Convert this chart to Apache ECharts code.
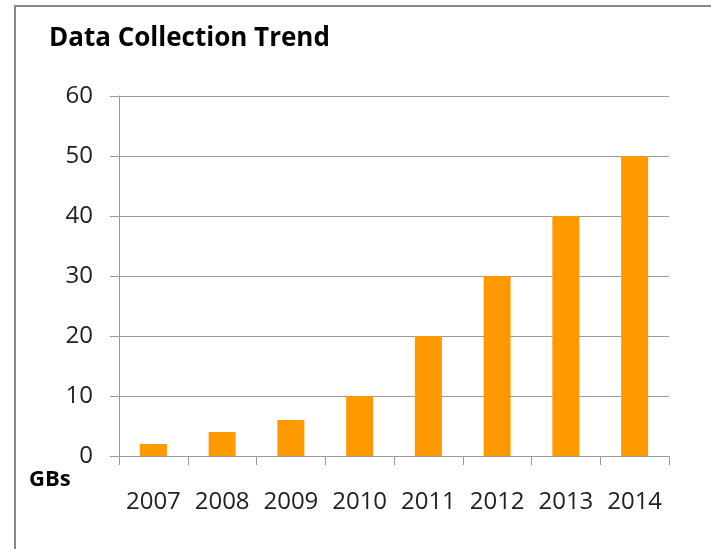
<!DOCTYPE html>
<html><head><meta charset="utf-8">
<script src="https://cdn.jsdelivr.net/npm/echarts@6/dist/echarts.min.js"></script>
<style>html,body{margin:0;padding:0;background:#fff}#c{width:711px;height:549px}</style>
</head><body><div id="c"></div>
<script>
const categories = ['2007','2008','2009','2010','2011','2012','2013','2014'];
const gbValues = [2, 4, 6, 10, 20, 30, 40, 50];
const yTicks = [0, 10, 20, 30, 40, 50, 60];
const titleText = 'Data Collection Trend';
const unitText = 'GBs';

const chart = echarts.init(document.getElementById('c'), null, {renderer: 'canvas'});
chart.setOption({
  animation: false,
  backgroundColor: '#fff',
  title: {
    text: titleText, left: 44, top: 21,
    textStyle: {fontFamily: 'Open Sans', fontWeight: 'bold', fontSize: 26, color: '#000'}
  },
  graphic: [
    {type: 'line', shape: {x1: 15, y1: 5, x2: 15, y2: 549}, style: {stroke: '#888', lineWidth: 2}},
    {type: 'line', shape: {x1: 14, y1: 6, x2: 711, y2: 6}, style: {stroke: '#888', lineWidth: 2}},
    {type: 'text', left: 29, top: 469, style: {text: unitText, font: 'bold 22px "Open Sans"', fill: '#000'}}
  ],
  grid: {left: 119, right: 42, top: 96, bottom: 93},
  xAxis: {
    type: 'category', data: categories,
    axisLine: {lineStyle: {color: '#999', width: 1}},
    axisTick: {show: true, interval: 0, length: 9, lineStyle: {color: '#999'}},
    axisLabel: {interval: 0, margin: 34, fontFamily: 'Open Sans', fontSize: 24, color: '#222'}
  },
  yAxis: {
    type: 'value', min: yTicks[0], max: yTicks[yTicks.length - 1], interval: 10,
    axisLine: {show: true, lineStyle: {color: '#999', width: 1}},
    axisTick: {show: true, length: 9, lineStyle: {color: '#999'}},
    splitLine: {lineStyle: {color: '#999', width: 1}},
    axisLabel: {margin: 26, fontFamily: 'Open Sans', fontSize: 24, color: '#222'}
  },
  series: [{
    type: 'bar', data: gbValues, barWidth: 27,
    itemStyle: {color: '#FF9900'}
  }]
});
</script></body></html>
